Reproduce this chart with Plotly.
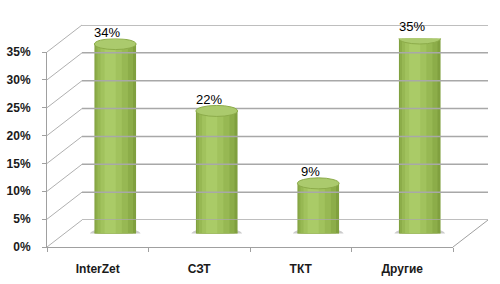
import plotly.graph_objects as go

categories = ["InterZet", "СЗТ", "ТКТ", "Другие"]
values = [34, 22, 9, 35]
y_ticks = [0, 5, 10, 15, 20, 25, 30, 35]
y_tick_labels = [f"{t}%" for t in y_ticks]

W, H = 500, 284
def px(x): return x / W
def py(y): return (H - y) / H

FX = (47, 453); FY = (247, 52)
BX = (82, 488); BY = (220, 25)
MX = ((FX[0]+BX[0])/2, (FX[1]+BX[1])/2); MY = ((FY[0]+BY[0])/2, (FY[1]+BY[1])/2)
YMAX = 35

fig = go.Figure()

fig.add_trace(go.Scatter(x=categories, y=values, mode="markers",
                         marker=dict(opacity=0), hoverinfo="skip",
                         showlegend=False, xaxis="x", yaxis="y"))

# back-wall gridlines drawn as a line trace on the back-wall axes
gx, gy = [], []
for t in y_ticks:
    gx += [0, 3, None]
    gy += [t, t, None]
fig.add_trace(go.Scatter(x=gx, y=gy, mode="lines",
                         line=dict(color="#a8a8a8", width=1.5),
                         hoverinfo="skip", showlegend=False,
                         xaxis="x3", yaxis="y3"))

pos = list(range(len(categories)))
layers = [
    (0.41, -0.205, "#80a03f"),
    (0.37, -0.195, "#8cad49"),
    (0.30, -0.175, "#97b853"),
    (0.21, -0.145, "#a1c25d"),
    (0.11, -0.105, "#aacb67"),
]
for w, off, col in layers:
    fig.add_trace(go.Bar(x=pos, y=values, width=w, offset=off,
                         marker=dict(color=col, line=dict(width=0)),
                         hoverinfo="skip", showlegend=False,
                         xaxis="x2", yaxis="y2"))

shapes = []
for t in y_ticks:
    yf = FY[0] + (FY[1] - FY[0]) * t / YMAX
    yb = BY[0] + (BY[1] - BY[0]) * t / YMAX
    shapes.append(dict(type="line", xref="paper", yref="paper", layer="below",
                       x0=px(FX[0]), y0=py(yf), x1=px(BX[0]), y1=py(yb),
                       line=dict(color="#b0b0b0", width=1)))
shapes.append(dict(type="line", xref="paper", yref="paper", layer="below",
                   x0=px(FX[1]), y0=py(FY[0]), x1=px(BX[1]), y1=py(BY[0]),
                   line=dict(color="#a0a0a0", width=1)))

hh = 5.5 * YMAX / (MY[0] - MY[1])
for i, v in enumerate(values):
    shapes.append(dict(type="circle", xref="x2", yref="y2", layer="above",
                       x0=i - 0.205, x1=i + 0.205, y0=v - hh, y1=v + hh,
                       fillcolor="#abca6d", line=dict(color="#8cab4a", width=1)))
    shapes.append(dict(type="circle", xref="x2", yref="y2", layer="below",
                       x0=i - 0.25, x1=i + 0.25, y0=-hh * 1.3, y1=hh * 1.1,
                       fillcolor="rgba(110,110,110,0.35)", line=dict(width=0)))
    shapes.append(dict(type="circle", xref="x2", yref="y2", layer="below",
                       x0=i - 0.205, x1=i + 0.205, y0=-hh, y1=hh,
                       fillcolor="#8fae4b", line=dict(width=0)))

annotations = []
for i, v in enumerate(values):
    annotations.append(dict(x=i, y=v, xref="x2", yref="y2", text=f"{v}%",
                            showarrow=False, yanchor="bottom", xshift=-8, yshift=2,
                            font=dict(family="Liberation Sans", size=13, color="#000")))

tickfont = dict(family="Liberation Sans", size=12, color="#1a1a1a", weight="bold")

fig.update_layout(
    template="none",
    width=W, height=H, margin=dict(l=0, r=0, t=0, b=0),
    paper_bgcolor="white", plot_bgcolor="rgba(0,0,0,0)",
    barmode="overlay", showlegend=False,
    shapes=shapes, annotations=annotations,
    xaxis=dict(domain=[px(FX[0]), px(FX[1])], type="category",
               categoryorder="array", categoryarray=categories,
               range=[-0.5, 3.5], showgrid=False, showline=True,
               linecolor="#a0a0a0", linewidth=1, ticks="outside",
               tickson="boundaries", ticklen=4, tickcolor="#a0a0a0",
               ticklabelstandoff=11,
               tickfont=tickfont, anchor="y", zeroline=False),
    yaxis=dict(domain=[py(FY[0]), py(FY[1])], range=[0, YMAX],
               tickvals=y_ticks, ticktext=y_tick_labels, showgrid=False,
               showline=True, linecolor="#a0a0a0", linewidth=1,
               ticks="outside", ticklen=4, tickcolor="#a0a0a0",
               ticklabelstandoff=9,
               tickfont=tickfont, anchor="x", zeroline=False),
    xaxis2=dict(domain=[px(MX[0]), px(MX[1])], range=[-0.5, 3.5],
                visible=False, anchor="y2"),
    yaxis2=dict(domain=[py(MY[0]), py(MY[1])], range=[0, YMAX],
                visible=False, anchor="x2"),
    xaxis3=dict(domain=[px(BX[0]), px(BX[1])], range=[0, 3],
                visible=False, anchor="y3"),
    yaxis3=dict(domain=[py(BY[0]), py(BY[1])], range=[0, YMAX],
                visible=False, anchor="x3"),
)

fig.write_html("out.html")
